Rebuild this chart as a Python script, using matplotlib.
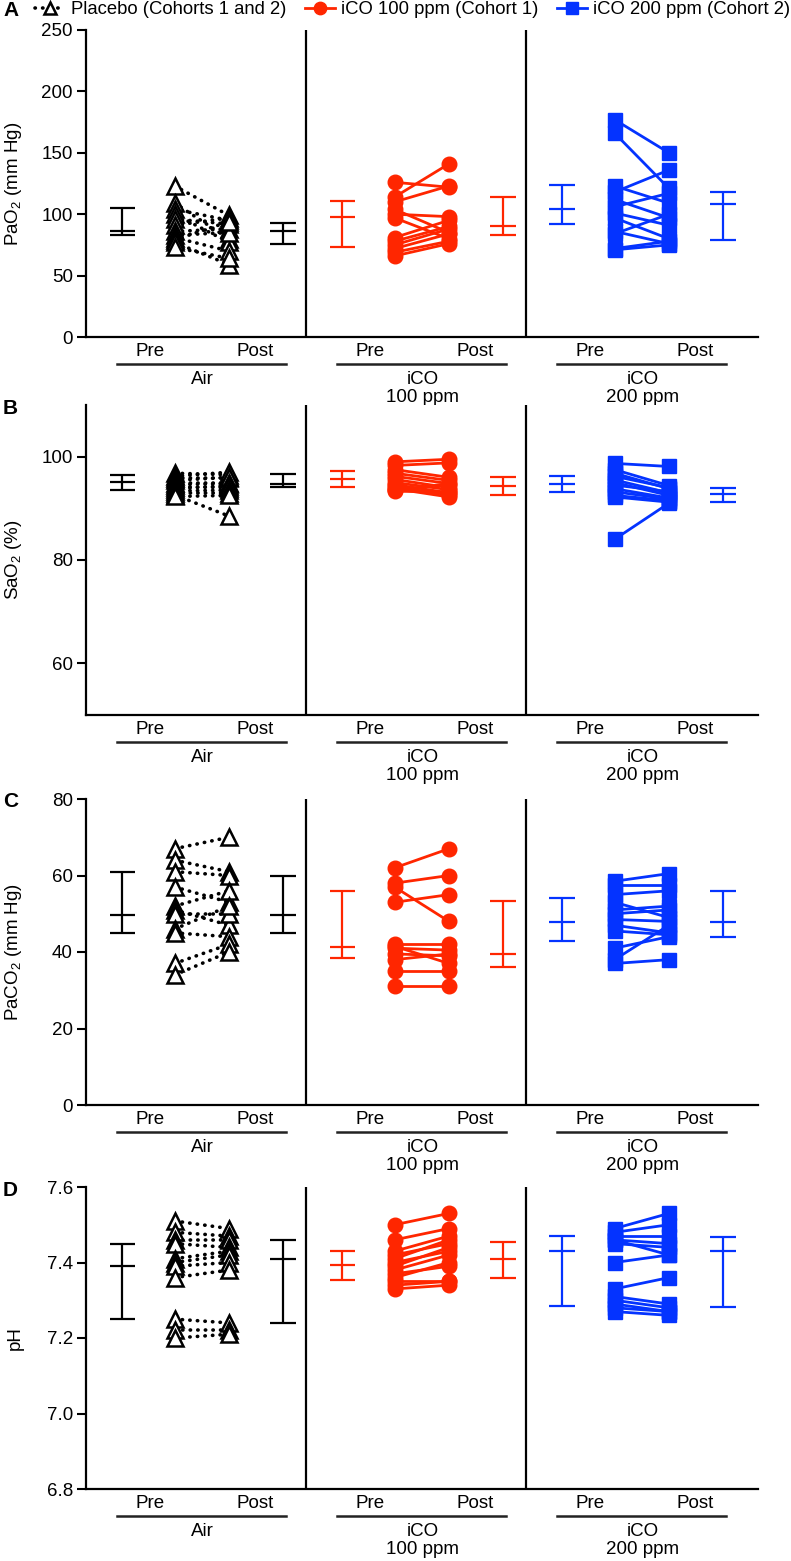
"""
Paired pre/post blood gas values (PaO2, SaO2, PaCO2, pH) for placebo and iCO cohorts.
"""
import matplotlib
matplotlib.use("Agg")
import matplotlib.pyplot as plt
import matplotlib.transforms as mtransforms
from matplotlib.lines import Line2D

plt.rcParams["font.family"] = ["Liberation Sans", "DejaVu Sans"]
plt.rcParams["mathtext.default"] = "regular"

RED = "#FF2600"
BLUE = "#0433FF"

GROUP_NAMES = [["Air"], ["iCO", "100 ppm"], ["iCO", "200 ppm"]]
TIME_LABELS = ["Pre", "Post"]
LEGEND_LABELS = ["Placebo (Cohorts 1 and 2)", "iCO 100 ppm (Cohort 1)", "iCO 200 ppm (Cohort 2)"]
PANEL_LETTERS = ["A", "B", "C", "D"]
Y_LABELS = ["PaO$_2$ (mm Hg)", "SaO$_2$ (%)", "PaCO$_2$ (mm Hg)", "pH"]
Y_LIMITS = [(0, 250), (50, 110), (0, 80), (6.8, 7.6)]
Y_TICKS = [[0, 50, 100, 150, 200, 250], [60, 80, 100], [0, 20, 40, 60, 80],
           [6.8, 7.0, 7.2, 7.4, 7.6]]

# panel A: PaO2
A_AIR_PRE = [123, 109, 104, 100, 96, 91, 86, 83, 81, 79, 77, 73]
A_AIR_POST = [99, 80, 95, 77, 92, 97, 88, 85, 70, 94, 59, 64]
A_ICO100_PRE = [126, 114, 110, 104, 100, 97, 81, 78, 75, 72, 69, 66]
A_ICO100_POST = [122, 141, 123, 85, 98, 80, 95, 90, 88, 84, 78, 76]
A_ICO200_PRE = [177, 166, 123, 118, 112, 106, 101, 97, 86, 84, 72, 71]
A_ICO200_POST = [150, 121, 109, 136, 97, 117, 91, 80, 76, 100, 78, 75]
A_ERR = [(83, 86, 105), (76, 86, 93), (73, 98, 111), (83, 90, 114), (92, 104, 124), (79, 108, 118)]

# panel B: SaO2
B_AIR_PRE = [96.8, 96.2, 95.8, 95.4, 95.0, 94.6, 94.2, 93.8, 93.4, 93.0, 92.6, 92.3]
B_AIR_POST = [96.5, 97.0, 95.8, 96.0, 95.0, 94.8, 94.0, 94.4, 93.5, 93.0, 88.5, 92.5]
B_ICO100_PRE = [99.0, 98.3, 97.5, 96.8, 96.2, 95.6, 95.0, 94.6, 94.2, 93.8, 93.5, 93.3]
B_ICO100_POST = [99.5, 98.8, 96.0, 95.4, 94.8, 94.0, 93.6, 93.0, 92.6, 92.2, 94.8, 93.2]
B_ICO200_PRE = [98.7, 97.5, 96.8, 96.2, 95.5, 95.0, 94.5, 93.8, 93.2, 92.5, 92.2, 84.0]
B_ICO200_POST = [98.1, 94.4, 93.8, 94.0, 93.0, 92.5, 93.2, 92.0, 91.8, 91.5, 91.2, 91.0]
B_ERR = [(93.5, 95.1, 96.4), (94.2, 94.8, 96.6), (94.2, 95.7, 97.2), (92.5, 94.4, 96.1),
         (93.1, 94.8, 96.2), (91.2, 92.7, 94.0)]

# panel C: PaCO2
C_AIR_PRE = [67, 64, 61, 57, 52, 51, 50, 46, 45, 37, 34]
C_AIR_POST = [70, 61, 60, 53, 56, 47, 50, 52, 44, 42, 40]
C_ICO100_PRE = [62, 58, 57, 53, 42, 41.5, 41, 39.5, 38, 35, 31]
C_ICO100_POST = [67, 60, 48, 55, 42, 37, 40.5, 39, 39.5, 35, 31]
C_ICO200_PRE = [58.5, 57.5, 55, 53, 51, 50, 48.5, 47, 45.5, 41, 38, 37]
C_ICO200_POST = [60.5, 57.5, 56, 49, 52, 51, 48, 45, 44.5, 44, 47, 38]
C_ERR = [(44.9, 49.8, 60.8), (44.9, 49.8, 59.9), (38.4, 41.4, 56.0), (36.2, 39.4, 53.3),
         (42.9, 47.9, 54.0), (43.8, 47.9, 55.9)]

# panel D: pH
D_AIR_PRE = [7.51, 7.48, 7.46, 7.45, 7.41, 7.40, 7.39, 7.36, 7.25, 7.22, 7.20]
D_AIR_POST = [7.49, 7.47, 7.46, 7.44, 7.43, 7.42, 7.40, 7.38, 7.24, 7.22, 7.21]
D_ICO100_PRE = [7.50, 7.46, 7.43, 7.42, 7.41, 7.40, 7.39, 7.38, 7.37, 7.36, 7.35, 7.34, 7.33]
D_ICO100_POST = [7.53, 7.49, 7.47, 7.45, 7.46, 7.43, 7.44, 7.42, 7.39, 7.40, 7.35, 7.35, 7.34]
D_ICO200_PRE = [7.49, 7.48, 7.47, 7.46, 7.46, 7.45, 7.40, 7.33, 7.31, 7.30, 7.29, 7.28, 7.27]
D_ICO200_POST = [7.53, 7.50, 7.47, 7.45, 7.42, 7.44, 7.42, 7.36, 7.29, 7.28, 7.27, 7.27, 7.26]
D_ERR = [(7.25, 7.39, 7.45), (7.24, 7.41, 7.46), (7.354, 7.394, 7.43), (7.359, 7.409, 7.454),
         (7.286, 7.43, 7.469), (7.282, 7.43, 7.467)]

PANELS = [
    ([(A_AIR_PRE, A_AIR_POST), (A_ICO100_PRE, A_ICO100_POST), (A_ICO200_PRE, A_ICO200_POST)], A_ERR),
    ([(B_AIR_PRE, B_AIR_POST), (B_ICO100_PRE, B_ICO100_POST), (B_ICO200_PRE, B_ICO200_POST)], B_ERR),
    ([(C_AIR_PRE, C_AIR_POST), (C_ICO100_PRE, C_ICO100_POST), (C_ICO200_PRE, C_ICO200_POST)], C_ERR),
    ([(D_AIR_PRE, D_AIR_POST), (D_ICO100_PRE, D_ICO100_POST), (D_ICO200_PRE, D_ICO200_POST)], D_ERR),
]

DOTTED = (0, (0.1, 2.0))
GROUP_STYLES = [
    {"color": "black", "ls": DOTTED, "lw": 2.6, "marker": "^", "ms": 11, "mfc": "white", "mew": 1.8},
    {"color": RED, "ls": "-", "lw": 2.0, "marker": "o", "ms": 10.5, "mfc": RED, "mew": 1.0},
    {"color": BLUE, "ls": "-", "lw": 2.0, "marker": "s", "ms": 10, "mfc": BLUE, "mew": 1.0},
]

# x offsets inside each group (group width = 1)
ERR_L, PRE_X, POST_X, ERR_R = -0.335, -0.097, 0.15, 0.395
CAP = 0.058

FIG_W, FIG_H = 791, 1561
AX_LEFT, AX_RIGHT = 86, 758
AX_ROWS = [(30, 337), (405, 715), (799, 1105), (1187, 1489)]


def draw_errbar(ax, x, low, mid, high, color):
    ax.vlines(x, low, high, color=color, lw=1.6, zorder=2)
    ax.hlines([low, mid, high], x - CAP, x + CAP, color=color, lw=1.6, zorder=2)


def draw_panel(ax, fig, groups, errs, idx):
    for g, (pre, post) in enumerate(groups):
        st = GROUP_STYLES[g]
        xp, xq = g + PRE_X, g + POST_X
        for a, b in zip(pre, post):
            ax.plot([xp, xq], [a, b], color=st["color"], ls=st["ls"], lw=st["lw"],
                    dash_capstyle="round", zorder=2)
        for a, b in zip(pre, post):
            ax.plot([xp, xq], [a, b], ls="none", marker=st["marker"], ms=st["ms"],
                    mfc=st["mfc"], mec=st["color"], mew=st["mew"], zorder=3)
        draw_errbar(ax, g + ERR_L, *errs[2 * g], st["color"])
        draw_errbar(ax, g + ERR_R, *errs[2 * g + 1], st["color"])

    ax.set_xlim(-0.5, 2.555)
    ax.set_ylim(*Y_LIMITS[idx])
    ax.set_yticks(Y_TICKS[idx])
    if idx == 3:
        ax.set_yticklabels([f"{t:.1f}" for t in Y_TICKS[idx]])
    ax.set_xticks([])
    for s in ["top", "right"]:
        ax.spines[s].set_visible(False)
    for s in ["left", "bottom"]:
        ax.spines[s].set_linewidth(1.6)
    ax.tick_params(axis="y", length=6.5, width=1.5, labelsize=13.5, pad=3)
    for xd in [0.5, 1.5]:
        ax.axvline(xd, color="black", lw=1.6, zorder=1)
    ax.set_ylabel(Y_LABELS[idx], fontsize=13.5)
    ax.yaxis.set_label_coords((24 - AX_LEFT) / (AX_RIGHT - AX_LEFT), 0.5)

    trans = ax.get_xaxis_transform()
    under = mtransforms.offset_copy(trans, fig=fig, y=-27, units="dots")
    for g, name in enumerate(GROUP_NAMES):
        for t, lab in enumerate(TIME_LABELS):
            xt = g + (-0.21 if t == 0 else 0.27)
            ax.annotate(lab, xy=(xt, 0), xycoords=trans, xytext=(0, -14),
                        textcoords="offset pixels", ha="center", va="center", fontsize=13.5)
        ax.add_line(Line2D([g - 0.36, g + 0.41], [0, 0], transform=under, color="#222222",
                           lw=1.8, clip_on=False))
        for k, line in enumerate(name):
            ax.annotate(line, xy=(g + 0.03, 0), xycoords=trans, xytext=(0, -43 - 18 * k),
                        textcoords="offset pixels", ha="center", va="center", fontsize=13.5)


def main():
    fig = plt.figure(figsize=(FIG_W / 100, FIG_H / 100), dpi=100)
    for idx, ((groups, errs), (top, bot)) in enumerate(zip(PANELS, AX_ROWS)):
        ax = fig.add_axes([AX_LEFT / FIG_W, 1 - bot / FIG_H,
                           (AX_RIGHT - AX_LEFT) / FIG_W, (bot - top) / FIG_H])
        draw_panel(ax, fig, groups, errs, idx)
        fig.text(3 / FIG_W, 1 - (top + 3 if idx else 10) / FIG_H, PANEL_LETTERS[idx],
                 fontsize=15, fontweight="bold", va="center", ha="left")

    handles = []
    for st in GROUP_STYLES:
        handles.append(Line2D([], [], color=st["color"], ls=st["ls"], lw=st["lw"],
                              dash_capstyle="round", marker=st["marker"], ms=st["ms"] * 0.85,
                              mfc=st["mfc"], mec=st["color"], mew=st["mew"]))
    fig.legend(handles, LEGEND_LABELS, loc="center", bbox_to_anchor=(0.522, 1 - 10 / FIG_H),
               ncol=3, frameon=False, fontsize=13.3, handlelength=1.6, handletextpad=0.35,
               columnspacing=1.0, borderpad=0)

    fig.savefig("out.png", dpi=100)
    plt.close(fig)


if __name__ == "__main__":
    main()
